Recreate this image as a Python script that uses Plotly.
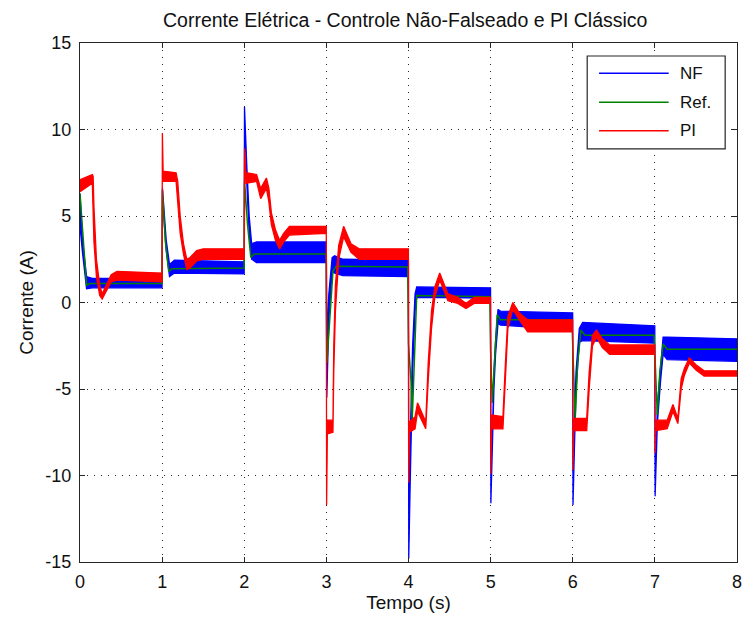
import plotly.graph_objects as go

# ---------------- data ----------------
# NF (blue): time and lower / upper envelope of the rippled current
nf_t = [0.0, 0.03, 0.08, 0.15, 0.999, 1.004, 1.05, 1.09, 1.15, 1.999,
        2.003, 2.012, 2.03, 2.06, 2.09, 2.15, 2.999, 3.005, 3.03, 3.07,
        3.1, 3.2, 3.999, 4.003, 4.02, 4.05, 4.08, 4.1, 4.999, 5.003,
        5.02, 5.04, 5.06, 5.09, 5.12, 5.999, 6.003, 6.02, 6.04, 6.08,
        6.12, 6.999, 7.003, 7.03, 7.07, 7.1, 7.15, 8.0]
nf_lo = [4.4, 2.9, 0.8, 0.85, 0.85, 6.0, 3.0, 1.5, 1.7, 1.65,
         11.3, 9.4, 7.0, 4.0, 2.5, 2.3, 2.3, -5.5, -1.0, 1.8,
         1.7, 1.55, 1.5, -14.8, -10.6, -4.0, -0.5, 0.3, 0.25, -11.6,
         -9.5, -5.0, -3.0, -1.2, -1.3, -1.6, -11.7, -8.5, -5.0, -2.3,
         -2.2, -2.35, -11.2, -7.0, -4.5, -3.0, -3.3, -3.4]
nf_hi = [6.3, 3.6, 1.5, 1.4, 1.4, 6.6, 3.6, 2.2, 2.45, 2.35,
         11.3, 10.0, 8.0, 5.0, 3.4, 3.5, 3.5, -2.0, 0.5, 2.6,
         2.7, 2.5, 2.45, -14.8, -8.0, -2.5, 0.5, 0.9, 0.85, -11.6,
         -8.5, -4.0, -2.2, -0.4, -0.5, -0.6, -11.7, -7.0, -4.0, -1.5,
         -1.15, -1.35, -11.2, -6.0, -3.7, -2.0, -2.0, -2.1]

# Ref. (green)
ref_t = [0.0, 0.02, 0.05, 0.08, 0.12, 0.999, 1.004, 1.04, 1.08, 1.12, 1.999,
         2.004, 2.04, 2.08, 2.12, 2.999, 3.006, 3.04, 3.08, 3.12, 3.99,
         4.0, 4.03, 4.045, 4.07, 4.1, 4.99, 5.0, 5.02, 5.05, 5.08, 5.12, 5.99,
         6.0, 6.03, 6.06, 6.1, 6.15, 6.99, 7.0, 7.03, 7.06, 7.1, 7.15, 8.0]
ref_v = [6.3, 5.0, 2.5, 1.0, 1.1, 1.1, 6.5, 3.5, 1.8, 1.95, 2.0,
         7.0, 4.5, 2.6, 2.8, 2.8, -3.5, -1.0, 1.8, 2.1, 2.05,
         -2.4, -4.5, -6.8, -3.0, 0.4, 0.34, -2.8, -5.8, -3.0, -0.7, -1.0, -1.0,
         -2.5, -6.7, -3.5, -1.6, -1.9, -1.9, -3.0, -6.5, -4.0, -2.4, -2.7, -2.7]

# PI (red): time and lower / upper envelope
pi_t = [0.0, 0.15, 0.16, 0.17, 0.2, 0.24, 0.27, 0.32, 0.38, 0.45, 0.999,
        1.003, 1.012, 1.17, 1.19, 1.22, 1.26, 1.3, 1.34, 1.42, 1.5, 1.999,
        2.003, 2.02, 2.15, 2.2, 2.27, 2.3, 2.33, 2.38, 2.43, 2.48, 2.55, 2.999,
        3.003, 3.012, 3.08, 3.09, 3.11, 3.15, 3.21, 3.3, 3.4, 3.999,
        4.003, 4.012, 4.08, 4.11, 4.21, 4.24, 4.28, 4.32, 4.38, 4.48, 4.6, 4.7, 4.8, 4.999,
        5.003, 5.012, 5.15, 5.18, 5.21, 5.27, 5.35, 5.45, 5.999,
        6.003, 6.012, 6.17, 6.2, 6.24, 6.29, 6.36, 6.45, 6.999,
        7.003, 7.012, 7.15, 7.22, 7.28, 7.32, 7.36, 7.42, 7.5, 7.6, 8.0]
pi_lo = [6.4, 6.9, 6.5, 3.5, 1.5, 0.4, 0.2, 0.6, 1.2, 1.3, 1.2,
         9.8, 7.0, 7.0, 6.0, 4.0, 2.8, 1.9, 2.0, 2.4, 2.5, 2.5,
         8.9, 6.9, 7.0, 6.0, 6.6, 5.8, 4.5, 3.6, 3.1, 3.5, 3.9, 4.0,
         -11.7, -7.6, -7.5, -4.0, -0.5, 2.5, 3.8, 2.9, 2.5, 2.5,
         -10.4, -7.5, -7.3, -6.3, -7.3, -4.5, -1.5, 0.3, 1.3, 0.1, -0.05, -0.35, -0.05, -0.05,
         -9.9, -7.3, -7.3, -4.5, -1.5, -0.4, -1.0, -1.7, -1.7,
         -9.7, -7.4, -7.4, -5.0, -2.5, -2.0, -2.6, -3.0, -3.0,
         -8.7, -7.4, -7.3, -6.3, -7.0, -5.0, -4.2, -3.5, -3.9, -4.25, -4.25]
pi_hi = [7.1, 7.4, 7.3, 5.5, 2.5, 1.0, 0.5, 1.0, 1.6, 1.8, 1.7,
         9.8, 7.6, 7.5, 7.0, 5.0, 3.4, 2.5, 2.6, 3.0, 3.1, 3.1,
         8.9, 7.5, 7.4, 6.6, 7.2, 6.6, 5.2, 4.2, 3.6, 4.0, 4.4, 4.4,
         -11.7, -6.8, -6.8, -2.5, 1.0, 3.3, 4.4, 3.4, 3.1, 3.1,
         -10.4, -6.9, -6.6, -5.8, -6.9, -3.5, -0.5, 0.9, 1.7, 0.5, 0.3, -0.05, 0.3, 0.3,
         -9.9, -6.5, -6.6, -3.5, -0.8, 0.0, -0.6, -1.0, -1.0,
         -9.7, -6.7, -6.7, -4.0, -1.9, -1.6, -2.1, -2.45, -2.45,
         -8.7, -6.8, -6.8, -5.9, -6.7, -4.4, -3.8, -3.2, -3.6, -3.95, -3.95]

x_ticks = [0, 1, 2, 3, 4, 5, 6, 7, 8]
y_ticks = [-15, -10, -5, 0, 5, 10, 15]

series_names = ["NF", "Ref.", "PI"]
colors = ["#0000FF", "#008000", "#FF0000"]

TITLE = "Corrente Elétrica - Controle Não-Falseado e PI Clássico"
XLABEL = "Tempo (s)"
YLABEL = "Corrente (A)"

FONT = "Liberation Sans, Arial, sans-serif"

# ---------------- figure ----------------
fig = go.Figure()


def band(t, lo, hi, name, color):
    xs = list(t) + list(t)[::-1]
    ys = list(hi) + list(lo)[::-1]
    return go.Scatter(x=xs, y=ys, mode="lines", fill="toself", fillcolor=color,
                      line=dict(color=color, width=1.3), name=name,
                      showlegend=False, hoverinfo="skip")


fig.add_trace(band(nf_t, nf_lo, nf_hi, series_names[0], colors[0]))
fig.add_trace(go.Scatter(x=ref_t, y=ref_v, mode="lines", name=series_names[1],
                         line=dict(color=colors[1], width=1.5), showlegend=False))
fig.add_trace(band(pi_t, pi_lo, pi_hi, series_names[2], colors[2]))

axis_common = dict(
    showline=True, linecolor="#262626", linewidth=1.2, mirror="ticks",
    ticks="inside", ticklen=5, tickwidth=1, tickcolor="#262626",
    showgrid=True, gridcolor="#262626", gridwidth=1, griddash="1px,6px",
    zeroline=False, tickfont=dict(family=FONT, size=18, color="#111"),
    ticklabeloverflow="allow", automargin=False,
)

fig.update_xaxes(range=[0, 8], tickvals=x_ticks,
                 ticktext=[str(v) for v in x_ticks], ticklabelstandoff=3,
                 title=dict(text=XLABEL, font=dict(family=FONT, size=19, color="#111"),
                            standoff=4),
                 **axis_common)
fig.update_yaxes(range=[-15, 15], tickvals=y_ticks,
                 ticktext=[str(v) for v in y_ticks], ticklabelstandoff=4,
                 title=dict(text=YLABEL, font=dict(family=FONT, size=19, color="#111"),
                            standoff=6),
                 **axis_common)

# Legend box (drawn like the MATLAB legend)
lx0, lx1, ly0, ly1 = 0.772, 0.982, 0.796, 0.975
fig.add_shape(type="rect", xref="paper", yref="paper", x0=lx0, x1=lx1, y0=ly0, y1=ly1,
              line=dict(color="#262626", width=1.2), fillcolor="white", layer="above")
row_y = [0.9416, 0.886, 0.831]
for name, col, yy in zip(series_names, colors, row_y):
    fig.add_shape(type="line", xref="paper", yref="paper", x0=0.790, x1=0.896,
                  y0=yy, y1=yy, line=dict(color=col, width=1.5), layer="above")
    fig.add_annotation(x=0.910, y=yy, xref="paper", yref="paper", text=name,
                       showarrow=False, xanchor="left", yanchor="middle",
                       font=dict(family=FONT, size=17, color="#111"))

fig.update_layout(
    width=742, height=619,
    margin=dict(l=80, r=5, t=43, b=57),
    paper_bgcolor="white", plot_bgcolor="white",
    title=dict(text=TITLE, x=0.495, xanchor="center", y=0.968, yanchor="middle",
               xref="paper", font=dict(family=FONT, size=19.5, color="#111")),
    showlegend=False,
)

fig.write_html("out.html")
